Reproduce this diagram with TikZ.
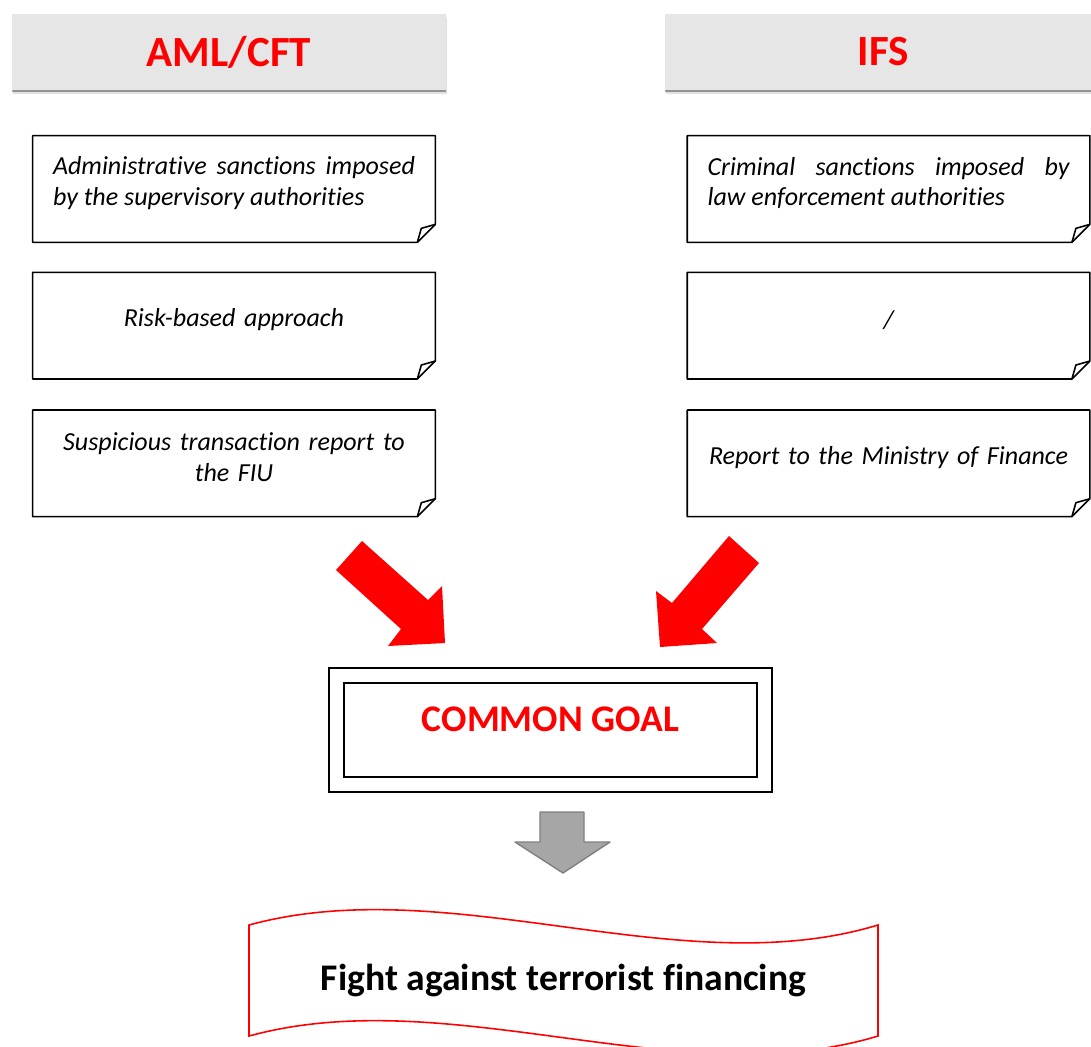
\documentclass[tikz,border=0pt]{standalone}
\usepackage{fontspec}
\setmainfont{Carlito}[Ligatures=NoCommon]
\usetikzlibrary{positioning,shadows}
\hyphenpenalty=10000

\definecolor{headgray}{HTML}{E6E6E6}
\definecolor{arrowgray}{HTML}{A6A6A6}
\definecolor{arrowedge}{HTML}{808080}

\tikzset{
  head/.style={fill=headgray, minimum height=1.52cm, inner sep=0pt, text=red,
    font=\fontsize{24.5}{28}\selectfont\bfseries,
    drop shadow={shadow xshift=0.2mm, shadow yshift=-0.8mm, opacity=0.12, fill=black},
    drop shadow={shadow xshift=0mm, shadow yshift=-0.45mm, opacity=0.35, fill=black}},
  note/.style={minimum width=8.04cm, minimum height=2.12cm, text width=7.24cm,
    inner sep=0pt, align=center, font=\fontsize{14.8}{17.6}\selectfont\itshape},
  frameline/.style={line width=0.9pt, line join=round},
  goalbox/.style={draw, double, double distance=0.27cm, line width=0.8pt,
    minimum width=8.56cm, minimum height=2.18cm, text=red, text depth=12.4pt,
    font=\fontsize{21.4}{25}\selectfont\bfseries},
  bigarrow/.style={fill=red},
  downarrow/.style={fill=arrowgray, draw=arrowedge, line width=0.8pt, line join=round},
  wave/.style={draw=red, line width=0.9pt, fill=white},
}

\begin{document}
\begin{tikzpicture}[x=0.02cm, y=-0.02cm]
  \useasboundingbox (0,0) rectangle (1091,1046);
  % Headers
  \node[head, minimum width=8.68cm] (amlhead) at (229,52) {AML/CFT};
  \node[head, minimum width=8.72cm] (ifshead) at (883,52) {IFS};
  % Notes
  \node[note, align=justify] (aml1) at (234,183) {Administrative sanctions imposed\linebreak by the supervisory authorities};
  \node[note, below=0.6cm of aml1]  (aml2) {Risk-based approach};
  \node[note, below=0.62cm of aml2] (aml3) {Suspicious transaction report to\\the FIU};
  \node[note, align=justify, right=5.04cm of aml1] (ifs1) {Criminal sanctions imposed by\linebreak law enforcement authorities};
  \node[note, right=5.04cm of aml2] (ifs2) {/};
  \node[note, right=5.04cm of aml3] (ifs3) {Report to the Ministry of Finance};
  % Folded frames
  \foreach \b in {aml1,aml2,aml3,ifs1,ifs2,ifs3}{
    \draw[frameline] ([yshift=-1.2mm]\b.north west) -- ([yshift=-1.2mm]\b.north east)
      -- ([yshift=2.4mm]\b.south east) -- ([xshift=-3.6mm,yshift=-1.2mm]\b.south east)
      -- ([yshift=-1.2mm]\b.south west) -- cycle;
    \draw[frameline] ([xshift=-3.6mm,yshift=-1.2mm]\b.south east)
      -- ([xshift=-2.8mm,yshift=1.6mm]\b.south east) -- ([yshift=2.4mm]\b.south east);
  }
  % Red arrows
  \fill[bigarrow] (362,541) -- (428,600) -- (442,586) -- (445,643) -- (388,646) -- (401,629) -- (336,570) -- cycle;
  \fill[bigarrow] (729,536) -- (759,563) -- (702,629) -- (717,643) -- (660,647) -- (656,591) -- (672,603) -- cycle;
  % Goal
  \node[goalbox] (goal) at (550.5,730) {COMMON GOAL};
  \draw[downarrow] (540,812) -- (584,812) -- (584,842) -- (610,842) -- (563,873) -- (515,842) -- (540,842) -- cycle;
  % Banner
  \draw[wave] (249,925) .. controls (450,870) and (680,985) .. (878,925)
    -- (878,1036) .. controls (680,1096) and (450,981) .. (249,1036) -- cycle;
  \node[anchor=base, font=\fontsize{21.4}{25}\selectfont\bfseries] (fight) at (563.5,990.7) {Fight against terrorist financing};
\end{tikzpicture}
\end{document}
